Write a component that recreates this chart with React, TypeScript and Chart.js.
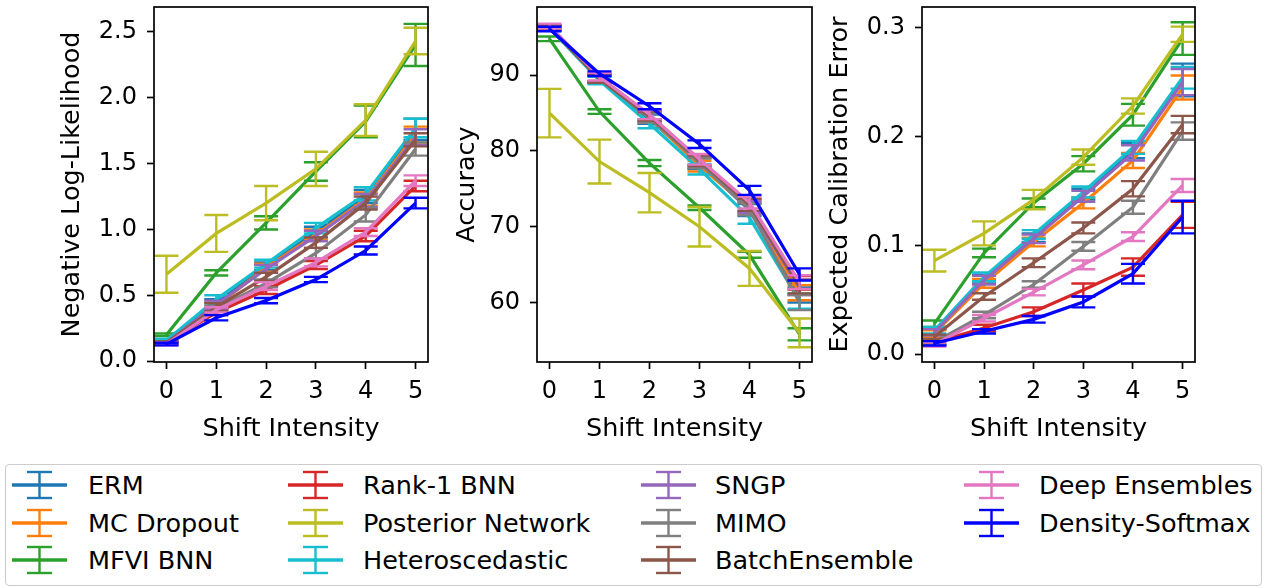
import React, { useEffect, useRef } from "react";
import { Chart, registerables } from "chart.js";

Chart.register(...registerables);

const FONT = "DejaVu Sans";

const shifts = [0, 1, 2, 3, 4, 5];

const methods = [
  "ERM",
  "MC Dropout",
  "MFVI BNN",
  "Rank-1 BNN",
  "Posterior Network",
  "Heteroscedastic",
  "SNGP",
  "MIMO",
  "BatchEnsemble",
  "Deep Ensembles",
  "Density-Softmax",
];

const colors = [
  "#1f77b4",
  "#ff7f0e",
  "#2ca02c",
  "#d62728",
  "#bcbd22",
  "#17becf",
  "#9467bd",
  "#7f7f7f",
  "#8c564b",
  "#e377c2",
  "#0000ff",
];

// Negative Log-Likelihood (one row per method, in the order of `methods`)
const nllMean = [
  [0.14, 0.44, 0.72, 0.98, 1.25, 1.76],
  [0.14, 0.42, 0.71, 0.96, 1.23, 1.72],
  [0.2, 0.67, 1.05, 1.44, 1.82, 2.4],
  [0.14, 0.37, 0.54, 0.73, 0.95, 1.33],
  [0.66, 0.97, 1.2, 1.46, 1.83, 2.43],
  [0.16, 0.47, 0.74, 1.01, 1.27, 1.77],
  [0.14, 0.43, 0.7, 0.95, 1.22, 1.7],
  [0.14, 0.4, 0.59, 0.82, 1.11, 1.61],
  [0.14, 0.41, 0.64, 0.9, 1.2, 1.68],
  [0.13, 0.39, 0.57, 0.75, 0.98, 1.37],
  [0.13, 0.33, 0.46, 0.62, 0.84, 1.2],
];
const nllErr = [
  [0.01, 0.03, 0.03, 0.04, 0.05, 0.08],
  [0.01, 0.03, 0.03, 0.04, 0.05, 0.06],
  [0.01, 0.02, 0.05, 0.07, 0.12, 0.16],
  [0.01, 0.02, 0.03, 0.03, 0.04, 0.04],
  [0.14, 0.14, 0.13, 0.13, 0.12, 0.1],
  [0.01, 0.03, 0.03, 0.04, 0.05, 0.07],
  [0.01, 0.03, 0.03, 0.04, 0.05, 0.06],
  [0.01, 0.02, 0.03, 0.04, 0.05, 0.05],
  [0.01, 0.03, 0.03, 0.04, 0.05, 0.05],
  [0.01, 0.02, 0.03, 0.03, 0.03, 0.04],
  [0.01, 0.02, 0.02, 0.02, 0.03, 0.04],
];

// Accuracy
const accMean = [
  [96.2, 89.6, 84.2, 78.3, 72.2, 61.0],
  [96.2, 89.6, 84.4, 78.0, 72.5, 61.3],
  [94.8, 85.2, 78.4, 72.5, 66.3, 55.8],
  [96.3, 89.7, 84.7, 78.8, 72.8, 62.6],
  [85.0, 78.6, 74.5, 70.0, 64.5, 56.0],
  [96.2, 89.3, 83.6, 77.6, 71.2, 60.2],
  [96.3, 89.6, 84.5, 78.5, 72.6, 62.0],
  [96.3, 89.5, 84.4, 78.4, 72.3, 60.0],
  [96.3, 89.5, 84.6, 78.7, 72.9, 62.1],
  [96.5, 89.8, 84.8, 78.9, 73.2, 62.7],
  [96.1, 90.2, 85.9, 80.9, 74.8, 63.7],
];
const accErr = [
  [0.3, 0.5, 0.6, 0.7, 0.8, 1.0],
  [0.3, 0.5, 0.6, 0.7, 0.8, 1.0],
  [0.3, 0.3, 0.4, 0.3, 0.4, 0.8],
  [0.3, 0.5, 0.6, 0.7, 0.8, 0.9],
  [3.2, 2.9, 2.6, 2.6, 2.3, 1.9],
  [0.3, 0.5, 0.6, 0.7, 0.8, 1.0],
  [0.3, 0.5, 0.6, 0.7, 0.8, 1.0],
  [0.3, 0.5, 0.6, 0.7, 0.8, 1.0],
  [0.3, 0.5, 0.6, 0.7, 0.8, 0.9],
  [0.3, 0.5, 0.6, 0.7, 0.8, 0.9],
  [0.3, 0.3, 0.4, 0.5, 0.6, 0.8],
];

// Expected Calibration Error
const eceMean = [
  [0.02, 0.069, 0.107, 0.147, 0.187, 0.252],
  [0.019, 0.065, 0.103, 0.139, 0.178, 0.245],
  [0.028, 0.093, 0.139, 0.175, 0.22, 0.29],
  [0.011, 0.024, 0.039, 0.059, 0.08, 0.128],
  [0.086, 0.111, 0.142, 0.181, 0.228, 0.294],
  [0.022, 0.071, 0.11, 0.149, 0.19, 0.254],
  [0.02, 0.068, 0.106, 0.145, 0.185, 0.25],
  [0.011, 0.036, 0.064, 0.099, 0.135, 0.205],
  [0.016, 0.053, 0.084, 0.116, 0.152, 0.211],
  [0.009, 0.033, 0.057, 0.082, 0.108, 0.155],
  [0.01, 0.021, 0.032, 0.048, 0.074, 0.126],
];
const eceErr = [
  [0.003, 0.004, 0.004, 0.005, 0.007, 0.015],
  [0.003, 0.004, 0.004, 0.005, 0.007, 0.011],
  [0.003, 0.004, 0.004, 0.007, 0.01, 0.015],
  [0.002, 0.003, 0.004, 0.006, 0.008, 0.012],
  [0.01, 0.011, 0.009, 0.007, 0.007, 0.007],
  [0.003, 0.004, 0.004, 0.005, 0.006, 0.01],
  [0.003, 0.004, 0.004, 0.005, 0.007, 0.012],
  [0.002, 0.003, 0.003, 0.004, 0.006, 0.008],
  [0.002, 0.003, 0.004, 0.005, 0.007, 0.008],
  [0.002, 0.003, 0.003, 0.004, 0.004, 0.006],
  [0.002, 0.002, 0.003, 0.005, 0.009, 0.015],
];

const nllTicks = [0.0, 0.5, 1.0, 1.5, 2.0, 2.5];
const accTicks = [60, 70, 80, 90];
const eceTicks = [0.0, 0.1, 0.2, 0.3];

const errorBarPlugin = {
  id: "errorBars",
  afterDatasetDraw(chart: any, args: any) {
    const ds: any = chart.data.datasets[args.index];
    const errs: number[] = ds.errors;
    if (!errs) return;
    const ys = chart.scales.y;
    const ctx = chart.ctx;
    ctx.save();
    ctx.strokeStyle = ds.borderColor;
    ctx.lineWidth = 2.4;
    args.meta.data.forEach((pt: any, i: number) => {
      const v = ds.data[i].y;
      const e = errs[i];
      const x = pt.x;
      const t = ys.getPixelForValue(v + e);
      const b = ys.getPixelForValue(v - e);
      ctx.beginPath();
      ctx.moveTo(x, t);
      ctx.lineTo(x, b);
      ctx.moveTo(x - 12, t);
      ctx.lineTo(x + 12, t);
      ctx.moveTo(x - 12, b);
      ctx.lineTo(x + 12, b);
      ctx.stroke();
    });
    ctx.restore();
  },
};

const framePlugin = {
  id: "frame",
  afterDatasetsDraw(chart: any) {
    const { left, top, right, bottom } = chart.chartArea;
    const ctx = chart.ctx;
    ctx.save();
    ctx.strokeStyle = "#000";
    ctx.lineWidth = 1.7;
    ctx.strokeRect(left, top, right - left, bottom - top);
    ctx.restore();
  },
};

type PanelCfg = {
  left: number;
  width: number;
  yWidth: number;
  padRight: number;
  titlePad: number;
  title: string;
  min: number;
  max: number;
  ticks: number[];
  decimals: number;
  means: number[][];
  errs: number[][];
};

const HEIGHT = 450;

function Panel({ cfg }: { cfg: PanelCfg }) {
  const ref = useRef<HTMLCanvasElement>(null);
  useEffect(() => {
    if (!ref.current) return;
    const datasets = methods.map((m, i) => ({
      label: m,
      data: shifts.map((s, j) => ({ x: s, y: cfg.means[i][j] })),
      errors: cfg.errs[i],
      borderColor: colors[i],
      backgroundColor: colors[i],
      borderWidth: 3.2,
      pointRadius: 0,
      tension: 0,
      order: -i,
    }));
    const tickFont = { family: FONT, size: 24 };
    const titleFont = { family: FONT, size: 25.5 };
    const chart = new Chart(ref.current, {
      type: "line",
      data: { datasets } as any,
      options: {
        animation: false,
        responsive: false,
        events: [],
        layout: { padding: { top: 7, right: cfg.padRight, left: 0, bottom: 0 } },
        plugins: { legend: { display: false }, tooltip: { enabled: false } },
        scales: {
          x: {
            type: "linear",
            min: -0.25,
            max: 5.25,
            afterBuildTicks: (s: any) => {
              s.ticks = shifts.map((v) => ({ value: v }));
            },
            afterFit: (s: any) => {
              s.height = HEIGHT - 362;
              s.paddingLeft = 0;
              s.paddingRight = 0;
            },
            ticks: {
              color: "#000",
              font: tickFont,
              padding: 8,
              maxRotation: 0,
              autoSkip: false,
              callback: (v: any) => String(v),
            },
            grid: {
              display: true,
              drawOnChartArea: false,
              drawTicks: true,
              tickLength: 7,
              tickColor: "#000",
              tickWidth: 1.7,
            },
            border: { display: false },
            title: {
              display: true,
              text: "Shift Intensity",
              color: "#000",
              font: titleFont,
              padding: { top: 0, bottom: 5 },
            },
          },
          y: {
            type: "linear",
            min: cfg.min,
            max: cfg.max,
            afterBuildTicks: (s: any) => {
              s.ticks = cfg.ticks.map((v) => ({ value: v }));
            },
            afterFit: (s: any) => {
              s.width = cfg.yWidth;
              s.paddingTop = 0;
              s.paddingBottom = 0;
            },
            ticks: {
              color: "#000",
              font: tickFont,
              padding: 10,
              autoSkip: false,
              callback: (v: any) => Number(v).toFixed(cfg.decimals),
            },
            grid: {
              display: true,
              drawOnChartArea: false,
              drawTicks: true,
              tickLength: 7,
              tickColor: "#000",
              tickWidth: 1.7,
            },
            border: { display: false },
            title: {
              display: true,
              text: cfg.title,
              color: "#000",
              font: titleFont,
              padding: { top: cfg.titlePad, bottom: 0 },
            },
          },
        },
      } as any,
      plugins: [errorBarPlugin, framePlugin],
    });
    return () => chart.destroy();
  }, [cfg]);
  return (
    <canvas
      ref={ref}
      width={cfg.width}
      height={HEIGHT}
      style={{
        position: "absolute",
        left: cfg.left,
        top: 0,
        width: cfg.width,
        height: HEIGHT,
        display: "block",
      }}
    />
  );
}

const panels: PanelCfg[] = [
  {
    left: 0,
    width: 440,
    yWidth: 154,
    padRight: 12,
    titlePad: 57,
    title: "Negative Log-Likelihood",
    min: -0.006,
    max: 2.688,
    ticks: nllTicks,
    decimals: 1,
    means: nllMean,
    errs: nllErr,
  },
  {
    left: 440,
    width: 385,
    yWidth: 97,
    padRight: 13,
    titlePad: 12,
    title: "Accuracy",
    min: 52.15,
    max: 99.0,
    ticks: accTicks,
    decimals: 0,
    means: accMean,
    errs: accErr,
  },
  {
    left: 825,
    width: 442,
    yWidth: 97,
    padRight: 72,
    titlePad: 0,
    title: "Expected Calibration Error",
    min: -0.0072,
    max: 0.319,
    ticks: eceTicks,
    decimals: 1,
    means: eceMean,
    errs: eceErr,
  },
];

const legendCols = [
  { handle: 12, text: 88 },
  { handle: 288, text: 363 },
  { handle: 641, text: 715 },
  { handle: 964, text: 1039 },
];
const legendRows = [485, 522.5, 560];

function LegendHandle({ color }: { color: string }) {
  return (
    <svg width={55} height={30} style={{ display: "block" }}>
      <line x1={0} y1={15} x2={55} y2={15} stroke={color} strokeWidth={3.4} />
      <line x1={27.5} y1={2} x2={27.5} y2={28} stroke={color} strokeWidth={2.4} />
      <line x1={15} y1={2} x2={40} y2={2} stroke={color} strokeWidth={2.4} />
      <line x1={15} y1={28} x2={40} y2={28} stroke={color} strokeWidth={2.4} />
    </svg>
  );
}

function Legend() {
  return (
    <>
      <div
        style={{
          position: "absolute",
          left: 5,
          top: 464,
          width: 1257,
          height: 122,
          boxSizing: "border-box",
          border: "1.5px solid #cccccc",
          borderRadius: 4,
          background: "#fff",
        }}
      />
      {methods.map((m, i) => {
        const col = legendCols[Math.floor(i / 3)];
        const rowY = legendRows[i % 3];
        return (
          <React.Fragment key={m}>
            <div style={{ position: "absolute", left: col.handle, top: rowY - 15 }}>
              <LegendHandle color={colors[i]} />
            </div>
            <div
              style={{
                position: "absolute",
                left: col.text,
                top: rowY - 16,
                height: 32,
                lineHeight: "32px",
                fontFamily: FONT,
                fontSize: 25.5,
                color: "#000",
                whiteSpace: "nowrap",
              }}
            >
              {m}
            </div>
          </React.Fragment>
        );
      })}
    </>
  );
}

export default function App() {
  return (
    <div
      style={{
        position: "absolute",
        left: 0,
        top: 0,
        width: 1267,
        height: 588,
        background: "#fff",
        overflow: "hidden",
      }}
    >
      {panels.map((p) => (
        <Panel key={p.title} cfg={p} />
      ))}
      <Legend />
    </div>
  );
}
